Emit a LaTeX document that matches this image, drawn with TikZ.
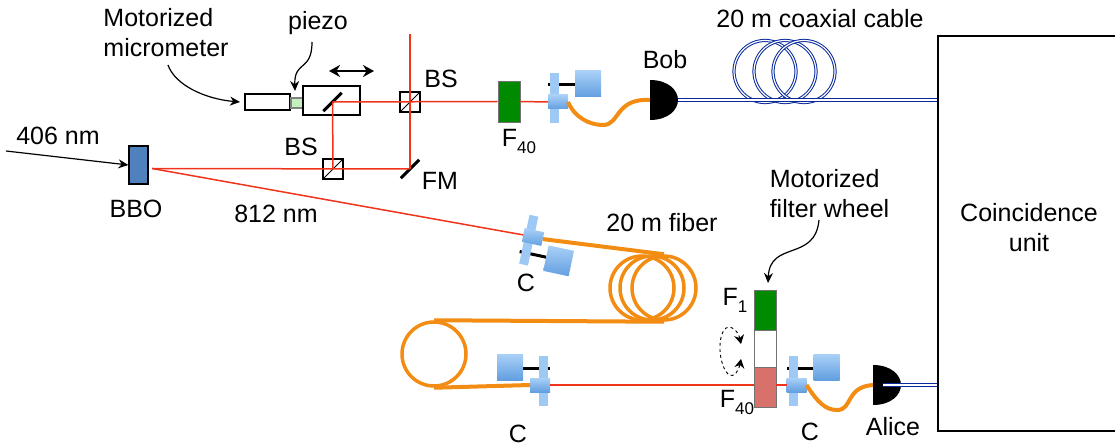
\documentclass[tikz,border=0pt]{standalone}
\usepackage{fontspec}
\setmainfont{Liberation Sans}
\usetikzlibrary{arrows.meta}

\definecolor{beamred}{HTML}{F0341C}
\definecolor{fiberorange}{HTML}{F28C12}
\definecolor{cableblue}{HTML}{0A2A9C}
\definecolor{crystalblue}{HTML}{4F81BD}
\definecolor{filtergreen}{HTML}{008A00}
\definecolor{filterred}{HTML}{D9716B}
\definecolor{piezogreen}{HTML}{C6EFC0}
\definecolor{mountlight}{HTML}{A9D0F7}
\definecolor{mountdark}{HTML}{629FE0}

\newcommand{\subtext}[1]{\raisebox{-7pt}{\fontsize{17}{17}\selectfont #1}}

\tikzset{
    coupler/.pic={
        % Knob and mount
        \draw[black,line width=3pt] (-10,-17) -- (17,-17);
        \path[top color=mountlight,bottom color=mountdark] (17,-31) rectangle (43,-5);
        \path[fill=mountlight!85!mountdark] (-8,-29) rectangle (1,21);
        \path[top color=mountlight,bottom color=mountdark] (-10,-7) rectangle (10,7);
        \coordinate (-in) at (-10,0);
        \coordinate (-out) at (10,0);
    },
    detector/.pic={
        \fill[black] (0,-20) .. controls (18,-20) and (28,-10) .. (28,0)
            .. controls (28,10) and (18,20) .. (0,20) -- cycle;
        \coordinate (-in) at (0,0);
        \coordinate (-out) at (28,0);
    }
}

\begin{document}
\begin{tikzpicture}[
    x=1pt, y=-1pt,
    font=\fontsize{25}{30}\selectfont,
    box/.style={
        rectangle,
        draw,
        line width=1.2pt,
        inner sep=0pt
    },
    filter/.style={
        rectangle,
        draw=black!55,
        line width=0.8pt,
        inner sep=0pt,
        minimum width=22pt
    },
    cube/.style={
        rectangle,
        draw,
        line width=1.2pt,
        inner sep=0pt,
        minimum size=20pt
    },
    mirror/.style={
        rectangle,
        fill=black,
        inner sep=0pt,
        minimum width=26pt,
        minimum height=3pt,
        rotate=45
    },
    beam/.style={beamred, line width=1.5pt},
    fiber/.style={fiberorange, line width=4pt},
    fibercoil/.style={
        circle,
        draw=fiberorange,
        line width=3.5pt,
        inner sep=0pt,
        minimum size=64pt
    },
    cable/.style={
        cableblue,
        line width=1.1pt,
        double=white,
        double distance=1.3pt
    },
    cablecoil/.style={
        circle,
        draw=cableblue,
        line width=1pt,
        double=white,
        double distance=1.2pt,
        inner sep=0pt,
        minimum size=62pt
    },
    pointer/.style={-{Stealth[length=10pt,width=9pt]}, line width=1.2pt}
]
    \useasboundingbox (0,0) rectangle (1115,446);

    % Delay line
    \node[box, minimum width=45pt, minimum height=16pt] (micrometer) at (267.5,102) {};
    \node[box, fill=piezogreen, draw=black!50, minimum width=12pt, minimum height=10pt] (piezo) at (297,103) {};
    \node[box, minimum width=57pt, minimum height=29pt] (stage) at (331.5,100.5) {};
    \node[mirror] (stagemirror) at (332.5,102) {};
    \node[cube] (bstop) at (410,102) {};
    \node[cube] (bsbottom) at (333,169) {};
    \node[mirror] (fm) at (410,169) {};
    \node[rectangle, draw, fill=crystalblue, line width=1.2pt, inner sep=0pt,
        minimum width=19pt, minimum height=38pt] (bbo) at (138.5,165) {};
    \node[filter, fill=filtergreen, minimum height=41pt] (fbob) at (509,101.5) {};

    \draw[line width=1pt] (bstop.south west) -- (bstop.north east);
    \draw[line width=1pt] (bsbottom.south west) -- (bsbottom.north east);

    % Couplers and detectors
    \pic (cbob) at (558,102) {coupler};
    \pic[rotate=-12, yscale=-1] (cin) at (533,237) {coupler};
    \pic[xscale=-1] (cout) at (540,385) {coupler};
    \pic (calice) at (796.5,385) {coupler};
    \pic (bob) at (650,100) {detector};
    \pic (alice) at (873,385) {detector};

    % Filter wheel
    \node[filter, fill=filtergreen, minimum height=40pt] (fone) at (765,310) {};
    \node[filter, fill=white, minimum height=37pt] (fopen) at (765,348.5) {};
    \node[filter, fill=filterred, minimum height=40pt] (ffour) at (765,387) {};

    % Coincidence unit, its right side lies past the edge
    \node[box, minimum width=200pt, minimum height=395pt] (unit) at (1038,233.5) {};

    % Fiber coils
    \node[fibercoil] (coila) at (642,288) {};
    \node[fibercoil] (coilb) at (652,288) {};
    \node[fibercoil] (coilc) at (664,288) {};
    \node[fibercoil] (coild) at (434,354) {};

    % Coaxial coils
    \node[cablecoil] (coaxa) at (765,71.5) {};
    \node[cablecoil] (coaxb) at (785,71.5) {};
    \node[cablecoil] (coaxc) at (804,71.5) {};

    % Beams
    \coordinate (beamend) at (410,34);
    \coordinate (bbosource) at (152,168.5);
    \draw[beam] (bbosource) -- (fm.center);
    \draw[beam] (bbosource) -- (cin-in);
    \draw[beam] (bsbottom.center) -- (stagemirror.center);
    \draw[beam] (stagemirror.center) -- (fbob.west);
    \draw[beam] (beamend) -- (fm.center);
    \draw[beam] (fbob.east) -- (cbob-in);
    \draw[beam] (cout-in) -- (ffour.west |- cout-in);
    \draw[beam] (ffour.east |- calice-in) -- (calice-in);

    % Fibers
    \coordinate (bobdip) at (603,125);
    \coordinate (alicedip) at (837,410);
    \draw[fiber] (cin-out) -- (coilc.north);
    \draw[fiber] (coilc.south) -- (coild.north);
    \draw[fiber] (coild.south) -- (cout-out);
    \draw[fiber] (cbob-out) .. controls (575,118) and (590,125) .. (bobdip)
        .. controls (620,125) and (615,98) .. (bob-in);
    \draw[fiber] (calice-out) .. controls (818,403) and (826,410) .. (alicedip)
        .. controls (853,410) and (845,387) .. (alice-in);

    % Cables
    \coordinate (aliceend) at (883,385);
    \draw[cable] (bob-out) -- (unit.west |- bob-out);
    \draw[cable] (aliceend) -- (unit.west |- aliceend);

    % Rotation and translation arrows
    \coordinate (stagel) at (329,71);
    \coordinate (stager) at (374,71);
    \coordinate (wheelt) at (741,344);
    \coordinate (wheelb) at (741,359);
    \coordinate (pumpstart) at (6,151);
    \draw[{Stealth[length=11pt,width=12pt]}-{Stealth[length=11pt,width=12pt]}, line width=2.2pt] (stagel) -- (stager);
    \draw[{Stealth[length=9pt,width=10pt]}-{Stealth[length=9pt,width=10pt]}, dashed, line width=0.9pt]
        (wheelt) .. controls (738,330) and (730,325) .. (726,328)
        .. controls (717,335) and (718,365) .. (729,375)
        .. controls (734,378) and (739,370) .. (wheelb);
    \draw[pointer] (pumpstart) -- (bbo.west);

    % Labels
    \node (lbl406) at (58,136) {406 nm};
    \node (lblbbo) at (136,209) {BBO};
    \node (lbl812) at (276,214) {812 nm};
    \node (lblbsb) at (301,147) {BS};
    \node (lblbst) at (441,79) {BS};
    \node (lblfm) at (440,181) {FM};
    \node[align=left, text depth=0pt] (lblmicro) at (166,32) {Motorized\\micrometer};
    \node (lblpiezo) at (318,23) {piezo};
    \node (lblfbob) at (519,141) {F\subtext{40}};
    \node (lblbob) at (665,60) {Bob};
    \node (lblcoax) at (820,19) {20 m coaxial cable};
    \node (lblfiber) at (662,223) {20 m fiber};
    \node (lblcin) at (526,283) {C};
    \node (lblcout) at (518,434) {C};
    \node (lblcalice) at (810,432) {C};
    \node (lblalice) at (893,427) {Alice};
    \node[align=left, text depth=0pt] (lblwheel) at (829.5,193) {Motorized\\filter wheel};
    \node (lblfone) at (735,300) {F\subtext{1}};
    \node (lblffour) at (737,402) {F\subtext{40}};
    \node[align=center] (lblunit) at (1029,228) {Coincidence\\unit};

    % Pointers
    \coordinate (microtail) at (168,65);
    \coordinate (microhead) at (240,102);
    \coordinate (piezotail) at (312,42);
    \coordinate (piezohead) at (295,91);
    \coordinate (wheeltail) at (819,220);
    \coordinate (wheelhead) at (768,283);
    \draw[pointer] (microtail) .. controls (175,85) and (205,99) .. (microhead);
    \draw[pointer] (piezotail) .. controls (312,72) and (294,60) .. (piezohead);
    \draw[pointer] (wheeltail) .. controls (815,262) and (770,240) .. (wheelhead);

\end{tikzpicture}
\end{document}
